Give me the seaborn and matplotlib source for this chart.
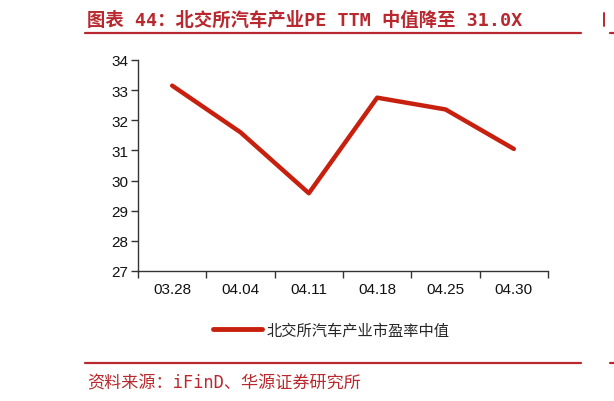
import matplotlib
matplotlib.use("Agg")
import matplotlib.pyplot as plt
import seaborn as sns
import pandas as pd
from matplotlib.lines import Line2D

# data
dates = ["03.28", "04.04", "04.11", "04.18", "04.25", "04.30"]
pe_median = [33.15, 31.6, 29.58, 32.75, 32.36, 31.05]
y_ticks = [27, 28, 29, 30, 31, 32, 33, 34]

series_name = "北交所汽车产业市盈率中值"
title = "图表 44：北交所汽车产业PE TTM 中值降至 31.0X"
source = "资料来源：iFinD、华源证券研究所"

RED = "#C8200E"
TITLE_RED = "#B8282E"

sns.set_theme(style="white")
plt.rcParams["font.family"] = ["Liberation Sans", "Noto Sans CJK SC", "DejaVu Sans"]

df = pd.DataFrame({"date": dates, "pe": pe_median})
df["pos"] = range(len(df))

W, H = 614, 402
fig = plt.figure(figsize=(W / 100, H / 100), dpi=100)
ax = fig.add_axes([138 / W, 1 - 272 / H, (548 - 138) / W, (272 - 61) / H])

sns.lineplot(data=df, x="pos", y="pe", color=RED, linewidth=3.2,
             label=series_name, ax=ax, legend=False)

ax.set_xlim(-0.5, len(dates) - 0.5)
ax.set_ylim(min(y_ticks), max(y_ticks))
ax.set_yticks(y_ticks)
ax.set_xticks([i - 0.5 for i in range(len(dates) + 1)])
ax.set_xticklabels([])
ax.set_xticks(list(range(len(dates))), minor=True)
ax.set_xticklabels(dates, minor=True)
ax.set_xlabel("")
ax.set_ylabel("")

for s in ["top", "right"]:
    ax.spines[s].set_visible(False)
for s in ["left", "bottom"]:
    ax.spines[s].set_color("#333333")
    ax.spines[s].set_linewidth(1.0)

ax.tick_params(axis="y", which="major", direction="out", length=5, width=1,
               color="#333333", labelsize=11, labelcolor="#111111", pad=2, left=True)
ax.tick_params(axis="x", which="major", direction="out", length=5, width=1,
               color="#333333", bottom=True)
ax.tick_params(axis="x", which="minor", length=0, labelsize=11,
               labelcolor="#111111", pad=8, bottom=True)

handle = Line2D([0], [0], color=RED, linewidth=3.5)
fig.legend([handle], [series_name], loc="center", bbox_to_anchor=(331 / W, 1 - 331 / H),
           frameon=False, handlelength=3.2, handletextpad=0.3,
           prop={"family": ["Noto Sans CJK SC"], "size": 11})

# title and source use a mono face for latin characters, like the reference
fig.text(87 / W, 1 - 21 / H, title, color=TITLE_RED, fontsize=13.2, fontweight="bold",
         ha="left", va="center", family=["DejaVu Sans Mono", "Noto Sans CJK SC"])
fig.text(87 / W, 1 - 383 / H, source, color=TITLE_RED, fontsize=12.3,
         ha="left", va="center", family=["DejaVu Sans Mono", "Noto Sans CJK SC"])

for y in (34, 364):
    fig.add_artist(Line2D([85 / W, 581 / W], [1 - y / H, 1 - y / H],
                          color=TITLE_RED, linewidth=1.6))
    fig.add_artist(Line2D([610 / W, 1.0], [1 - y / H, 1 - y / H],
                          color=TITLE_RED, linewidth=1.6))
# edge of the neighbouring chart's title
fig.add_artist(Line2D([604 / W, 604 / W], [1 - 14 / H, 1 - 27 / H],
                      color=TITLE_RED, linewidth=1.4))

fig.savefig("out.png", dpi=100)
